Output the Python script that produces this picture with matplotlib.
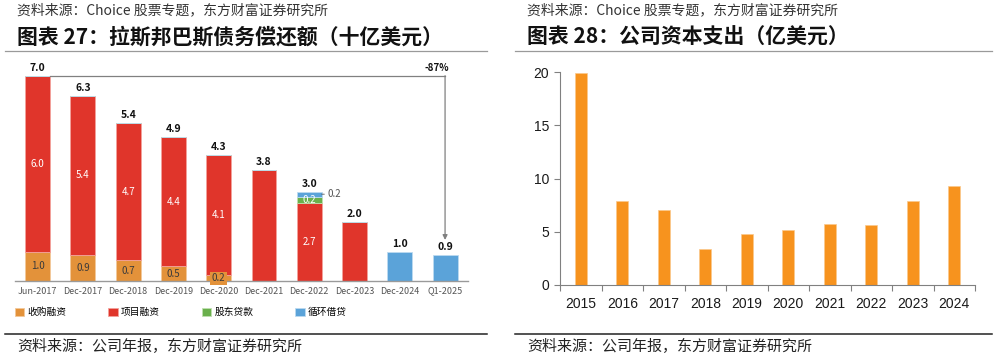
import matplotlib
matplotlib.use("Agg")
import matplotlib.pyplot as plt
import numpy as np
from matplotlib.lines import Line2D

plt.rcParams['font.family'] = ['Noto Sans CJK SC', 'DejaVu Sans']

# ---- datos del grafico 27 (miles de millones de USD) ----
periods = ['Jun-2017', 'Dec-2017', 'Dec-2018', 'Dec-2019', 'Dec-2020',
           'Dec-2021', 'Dec-2022', 'Dec-2023', 'Dec-2024', 'Q1-2025']
acquisition = [1.0, 0.9, 0.7, 0.5, 0.2, 0, 0, 0, 0, 0]
project = [6.0, 5.4, 4.7, 4.4, 4.1, 3.8, 2.66, 2.0, 0, 0]
shareholder = [0, 0, 0, 0, 0, 0, 0.22, 0, 0, 0]
revolver = [0, 0, 0, 0, 0, 0, 0.16, 0, 1.0, 0.9]
change_label = '-87%'

# ---- datos del grafico 28 (cientos de millones de USD) ----
years = ['2015', '2016', '2017', '2018', '2019', '2020', '2021', '2022', '2023', '2024']
capex = [19.9, 7.9, 7.05, 3.4, 4.77, 5.17, 5.74, 5.67, 7.9, 9.28]

W, H = 997, 359
C_ORANGE = '#E3923A'
C_RED = '#E0352B'
C_GREEN = '#6AB04C'
C_BLUE = '#5BA3D9'
C_CAPEX = '#F7931E'


def fx(px):
    return px / W


def fy(py):
    return 1 - py / H


fig = plt.figure(figsize=(W / 100, H / 100), dpi=100)

# ---- encabezados y pies ----
for x0, x1, title in [(5, 487, '图表 27：拉斯邦巴斯债务偿还额（十亿美元）'),
                      (515, 992, '图表 28：公司资本支出（亿美元）')]:
    fig.text(fx(x0 + 12), fy(10), '资料来源：Choice 股票专题，东方财富证券研究所',
             fontsize=10, color='#333333', va='center', ha='left')
    fig.text(fx(x0 + 12), fy(37), title, fontsize=15, fontweight='bold',
             color='#111111', va='center', ha='left')
    fig.add_artist(Line2D([fx(x0), fx(x1)], [fy(51), fy(51)], color='#9a9a9a', lw=0.9))
    fig.add_artist(Line2D([fx(x0), fx(x1)], [fy(334), fy(334)], color='#222222', lw=1.1))
    fig.text(fx(x0 + 12), fy(346), '资料来源：公司年报，东方财富证券研究所',
             fontsize=10.8, color='#222222', va='center', ha='left')

# ---- grafico 27: barras apiladas ----
ax1 = fig.add_axes([fx(15), fy(281), fx(452.7), (281 - 60) / H])
x = np.arange(len(periods))
bw = 0.55
acq = np.array(acquisition)
proj = np.array(project)
sh = np.array(shareholder)
rev = np.array(revolver)

b_acq = ax1.bar(x, acq, bw, color=C_ORANGE, edgecolor='#f3c89a', lw=0.6, label='收购融资')
b_proj = ax1.bar(x, proj, bw, bottom=acq, color=C_RED, edgecolor='#f3a29c', lw=0.6, label='项目融资')
b_sh = ax1.bar(x, sh, bw, bottom=acq + proj, color=C_GREEN, edgecolor='#bfe0b0', lw=0.6, label='股东贷款')
b_rev = ax1.bar(x, rev, bw, bottom=acq + proj + sh, color=C_BLUE, edgecolor='#bcdaf0', lw=0.6, label='循环借贷')

totals = acq + proj + sh + rev
for i in range(len(x)):
    ax1.text(x[i], totals[i] + 0.1, f'{totals[i]:.1f}', ha='center', va='bottom',
             fontsize=7.5, fontweight='bold', color='#111111')
    if acq[i] > 0:
        kw = {}
        if acq[i] < 0.3:
            kw = dict(bbox=dict(boxstyle='square,pad=0.15', fc=C_ORANGE, ec='none'))
        ax1.text(x[i], acq[i] / 2, f'{acq[i]:.1f}', ha='center', va='center',
                 fontsize=7, color='#3a3a3a', **kw)
    if proj[i] > 0 and (acq[i] > 0 or sh[i] > 0):
        ax1.text(x[i], acq[i] + proj[i] / 2, f'{proj[i]:.1f}', ha='center', va='center',
                 fontsize=7, color='white')
    if sh[i] > 0:
        ax1.text(x[i], acq[i] + proj[i] + sh[i] / 2, f'{sh[i]:.1f}', ha='center',
                 va='center', fontsize=7, color='white')
        ax1.annotate(f'{rev[i]:.1f}', xy=(x[i] + bw / 2, totals[i] - rev[i] / 2),
                     xytext=(x[i] + bw / 2 + 0.12, totals[i] - rev[i] / 2),
                     ha='left', va='center', fontsize=7, color='#555555',
                     arrowprops=dict(arrowstyle='-', color='#555555', lw=0.6,
                                     shrinkA=0, shrinkB=0))

# linea de variacion
ax1.plot([x[0] + bw / 2, x[-1]], [totals[0], totals[0]], color='#808080', lw=0.9)
ax1.annotate('', xy=(x[-1], totals[-1] + 0.5), xytext=(x[-1], totals[0]),
             arrowprops=dict(arrowstyle='-|>', color='#808080', lw=0.9,
                             mutation_scale=7, shrinkA=0, shrinkB=0))
ax1.text(x[-1] - 0.19, totals[0] + 0.27, change_label, ha='center', va='center',
         fontsize=7, fontweight='bold', color='#111111')

ax1.set_xlim(-0.5, len(x) - 0.5)
ax1.set_ylim(0, 221 / 29.33)
ax1.set_xticks(x)
ax1.set_xticklabels(periods, fontsize=6.5, color='#555555')
ax1.tick_params(axis='x', length=0, pad=4)
ax1.set_yticks([])
for s in ['top', 'right', 'left']:
    ax1.spines[s].set_visible(False)
ax1.spines['bottom'].set_color('#9a9a9a')
ax1.spines['bottom'].set_linewidth(1.0)

fig.legend(handles=[b_acq, b_proj, b_sh, b_rev], ncol=4, frameon=False,
           loc='center left', bbox_to_anchor=(fx(15), fy(312)), borderpad=0,
           borderaxespad=0, handlelength=0.95, handleheight=0.85,
           handletextpad=0.35, columnspacing=4.3, prop={'size': 7})

# ---- grafico 28: capex ----
ax2 = fig.add_axes([fx(560), fy(285), fx(415), 212.7 / H])
xc = np.arange(len(years))
ax2.bar(xc, capex, 0.3, color=C_CAPEX, edgecolor='#fbc88c', lw=0.5)
ax2.set_xlim(-0.5, len(years) - 0.5)
ax2.set_ylim(0, 20)
ax2.set_yticks([0, 5, 10, 15, 20])
ax2.set_xticks(xc)
ax2.set_xticklabels(years)
ax2.set_xticks(np.arange(-0.5, len(years)), minor=True)
ax2.tick_params(axis='x', which='major', length=0, pad=9)
ax2.tick_params(axis='x', which='minor', length=4, color='#808080', width=0.8)
ax2.tick_params(axis='y', length=4, color='#808080', width=0.8, pad=4)
for lab in ax2.get_xticklabels() + ax2.get_yticklabels():
    lab.set_family(['Liberation Sans', 'DejaVu Sans'])
    lab.set_fontsize(10)
    lab.set_color('#1a1a1a')
for s in ['top', 'right']:
    ax2.spines[s].set_visible(False)
for s in ['left', 'bottom']:
    ax2.spines[s].set_color('#808080')
    ax2.spines[s].set_linewidth(0.8)

fig.savefig('out.png', dpi=100)
